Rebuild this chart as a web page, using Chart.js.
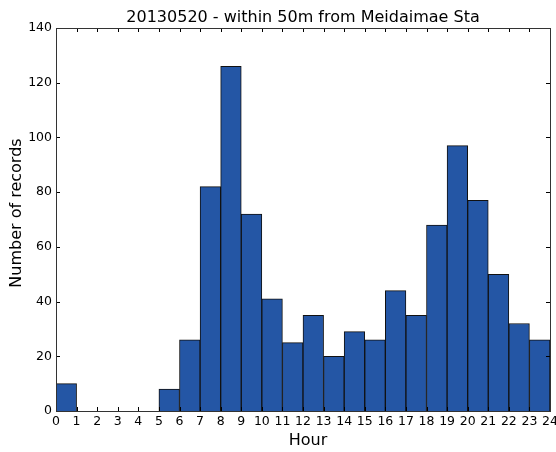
<!DOCTYPE html>
<html>
<head>
<meta charset="utf-8">
<script src="https://cdn.jsdelivr.net/npm/chart.js@4/dist/chart.umd.min.js"></script>
<style>
html,body{margin:0;padding:0;background:#fff;}
#wrap{width:556px;height:452px;position:relative;}
</style>
</head>
<body>
<div id="wrap"><canvas id="c" width="556" height="452"></canvas></div>
<script>
const binStarts = [0,1,2,3,4,5,6,7,8,9,10,11,12,13,14,15,16,17,18,19,20,21,22,23];
const counts = [10,0,0,0,0,8,26,82,126,72,41,25,35,20,29,26,44,35,68,97,77,50,32,26];
const xTicks = [0,1,2,3,4,5,6,7,8,9,10,11,12,13,14,15,16,17,18,19,20,21,22,23,24];
const yTicks = [0,20,40,60,80,100,120,140];
const titleText = '20130520 - within 50m from Meidaimae Sta';
const xLabel = 'Hour';
const yLabel = 'Number of records';

const FONT = 'DejaVu Sans';

const framePlugin = {
  id: 'frame',
  afterDatasetsDraw(chart) {
    const {ctx, chartArea: a, scales: {x, y}} = chart;
    ctx.save();
    ctx.strokeStyle = '#000';
    ctx.lineWidth = 1;
    ctx.beginPath();
    xTicks.forEach(t => {
      const px = Math.round(x.getPixelForValue(t)) + 0.5;
      ctx.moveTo(px, a.bottom); ctx.lineTo(px, a.bottom - 4);
      ctx.moveTo(px, a.top); ctx.lineTo(px, a.top + 4);
    });
    yTicks.forEach(t => {
      const py = Math.round(y.getPixelForValue(t)) + 0.5;
      ctx.moveTo(a.left, py); ctx.lineTo(a.left + 4, py);
      ctx.moveTo(a.right, py); ctx.lineTo(a.right - 4, py);
    });
    ctx.stroke();
    ctx.strokeStyle = '#333';
    ctx.strokeRect(Math.round(a.left)+0.5, Math.round(a.top)+0.5, Math.round(a.right-a.left), Math.round(a.bottom-a.top));
    // axis labels
    ctx.fillStyle = '#000';
    ctx.font = '16px "' + FONT + '"';
    ctx.textAlign = 'center';
    ctx.textBaseline = 'middle';
    ctx.fillText(xLabel, (a.left + a.right) / 2 + 5, 441);
    ctx.translate(17, (a.top + a.bottom) / 2 - 6.5);
    ctx.rotate(-Math.PI / 2);
    ctx.fillText(yLabel, 0, 0);
    ctx.restore();
  }
};

new Chart(document.getElementById('c'), {
  type: 'bar',
  data: {
    datasets: [{
      data: binStarts.map((s, i) => ({x: s + 0.5, y: counts[i]})),
      backgroundColor: '#2456a5',
      borderColor: '#111',
      borderWidth: 1,
      barPercentage: 1,
      categoryPercentage: 1,
      grouped: false
    }]
  },
  options: {
    responsive: false,
    animation: false,
    devicePixelRatio: 1,
    layout: {padding: {left: 0, right: 6, top: 0, bottom: 0}},
    plugins: {
      legend: {display: false},
      tooltip: {enabled: false},
      title: {
        display: true,
        fullSize: false,
        text: titleText,
        color: '#000',
        font: {family: FONT, size: 16, weight: 'normal'},
        padding: {top: 8, bottom: 0.8}
      }
    },
    scales: {
      x: {
        type: 'linear',
        min: 0, max: 24,
        offset: false,
        afterBuildTicks(s) { s.ticks = xTicks.map(v => ({value: v})); },
        afterFit(s) { s.height = 41; s.paddingLeft = 0; s.paddingRight = 0; },
        grid: {display: false, drawTicks: false},
        border: {display: false},
        ticks: {color: '#000', font: {family: FONT, size: 12.5}, padding: 3, maxRotation: 0, autoSkip: false},
        title: {display: false}
      },
      y: {
        min: 0, max: 140,
        afterBuildTicks(s) { s.ticks = yTicks.map(v => ({value: v})); },
        afterFit(s) { s.width = 56; s.paddingTop = 0; s.paddingBottom = 0; },
        grid: {display: false, drawTicks: false},
        border: {display: false},
        ticks: {color: '#000', font: {family: FONT, size: 12.5}, padding: 4},
        title: {display: false}
      }
    }
  },
  plugins: [framePlugin]
});
</script>
</body>
</html>
